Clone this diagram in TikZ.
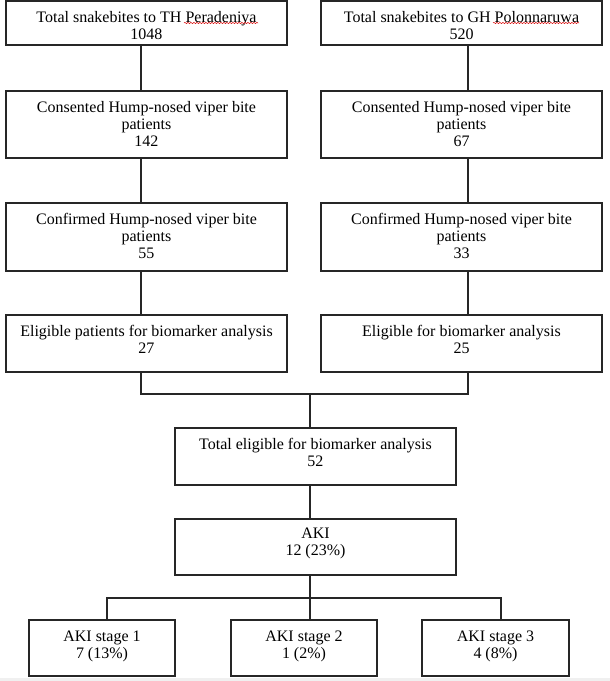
\documentclass[tikz,border=0pt]{standalone}
\usepackage{fontspec}
\setmainfont{Liberation Serif}
\usetikzlibrary{fit,decorations.pathmorphing}
\begin{document}
\begin{tikzpicture}[x=1pt,y=-1pt,
  box/.style={draw=black!85, line width=1.1pt, rectangle, inner sep=0pt},
  txt/.style={anchor=north, align=center, inner sep=0pt, font=\fontsize{16}{17}\selectfont, text=black},
  link/.style={draw=black!85, line width=1.1pt},
  squig/.style={draw=red!85!black, line width=0.5pt, decorate, decoration={snake, amplitude=0.6pt, segment length=3pt}}]
\useasboundingbox (0,0) rectangle (610,681);
\fill[white] (0,0) rectangle (610,681);
\fill[black!6] (0,678) rectangle (610,681);
% boxes
\node[box, fit={(6,1) (287,45)}] (L1) {};
\node[box, fit={(321,1) (602,45)}] (R1) {};
\node[box, fit={(6,91) (287,158)}] (L2) {};
\node[box, fit={(321,91) (602,158)}] (R2) {};
\node[box, fit={(6,203) (287,271)}] (L3) {};
\node[box, fit={(321,203) (602,271)}] (R3) {};
\node[box, fit={(6,315) (287,372)}] (L4) {};
\node[box, fit={(321,315) (602,372)}] (R4) {};
\node[box, fit={(175,428) (456,485)}] (T) {};
\node[box, fit={(175,519) (456,575)}] (A) {};
\node[box, fit={(29,620) (175,676)}] (S1) {};
\node[box, fit={(231,620) (377,676)}] (S2) {};
\node[box, fit={(422,620) (569,676)}] (S3) {};
% texts
\node[txt] (L1t) at ([yshift=-10.5pt]L1.north) {Total snakebites to TH Peradeniya\\1048};
\node[txt] (R1t) at ([yshift=-10.5pt]R1.north) {Total snakebites to GH Polonnaruwa\\520};
\node[txt] (L2t) at ([yshift=-10.5pt]L2.north) {Consented Hump-nosed viper bite\\patients\\142};
\node[txt] (R2t) at ([yshift=-10.5pt]R2.north) {Consented Hump-nosed viper bite\\patients\\67};
\node[txt] (L3t) at ([yshift=-10.5pt]L3.north) {Confirmed Hump-nosed viper bite\\patients\\55};
\node[txt] (R3t) at ([yshift=-10.5pt]R3.north) {Confirmed Hump-nosed viper bite\\patients\\33};
\node[txt] (L4t) at ([yshift=-11pt]L4.north) {Eligible patients for biomarker analysis\\27};
\node[txt] (R4t) at ([yshift=-11pt]R4.north) {Eligible for biomarker analysis\\25};
\node[txt] (Tt) at ([yshift=-10.5pt]T.north) {Total eligible for biomarker analysis\\52};
\node[txt] (At) at ([yshift=-9pt]A.north) {AKI\\12 (23\%)};
\node[txt] (S1t) at ([yshift=-11pt]S1.north) {AKI stage 1\\7 (13\%)};
\node[txt] (S2t) at ([yshift=-11pt]S2.north) {AKI stage 2\\1 (2\%)};
\node[txt] (S3t) at ([yshift=-11pt]S3.north) {AKI stage 3\\4 (8\%)};
% spell-check marks
\draw[squig] (184,23) -- (258,23);
\draw[squig] (493,23) -- (579,23);
% connector coordinates
\coordinate (cL) at (141,0);
\coordinate (cR) at (468,0);
\coordinate (mid) at (310,394);
\coordinate (bus) at (310,598);
\coordinate (s1) at (107,0);
\coordinate (s3) at (501,0);
% connectors
\draw[link] (L1.south -| cL) -- (L2.north -| cL);
\draw[link] (L2.south -| cL) -- (L3.north -| cL);
\draw[link] (L3.south -| cL) -- (L4.north -| cL);
\draw[link] (R1.south -| cR) -- (R2.north -| cR);
\draw[link] (R2.south -| cR) -- (R3.north -| cR);
\draw[link] (R3.south -| cR) -- (R4.north -| cR);
\draw[link] (L4.south -| cL) |- (mid) -| (R4.south -| cR);
\draw[link] (mid) -- (T.north -| mid);
\draw[link] (T.south -| mid) -- (A.north -| mid);
\draw[link] (A.south -| bus) -- (S2.north -| bus);
\draw[link] (S1.north -| s1) |- (bus) -| (S3.north -| s3);
\end{tikzpicture}
\end{document}
